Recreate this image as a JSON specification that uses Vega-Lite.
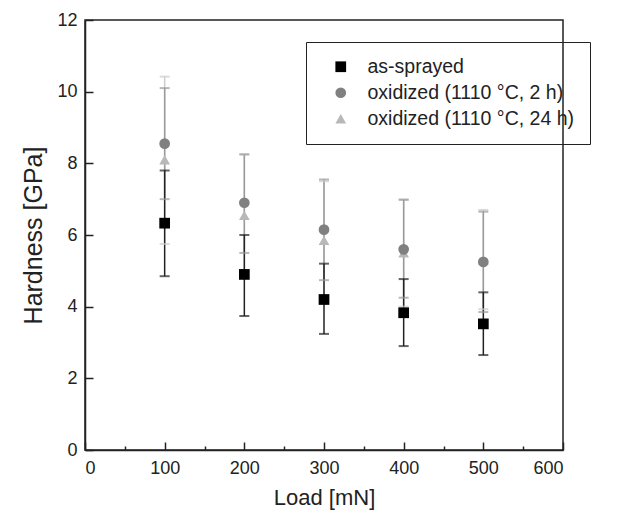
{
  "$schema": "https://vega.github.io/schema/vega-lite/v6.json",
  "width": 478,
  "height": 430,
  "autosize": {"type": "none"},
  "padding": {"left": 85, "top": 20, "right": 73, "bottom": 64},
  "background": "white",
  "config": {
    "font": "Liberation Sans",
    "view": {"stroke": "#222", "strokeWidth": 1.5},
    "axis": {"grid": false, "domainColor": "#222", "tickColor": "#222", "labelColor": "#222", "titleColor": "#222", "labelFont": "Liberation Sans", "titleFont": "Liberation Sans", "titleFontWeight": "normal", "domainWidth": 1.5, "tickWidth": 1.5}
  },
  "data": {
    "values": [
      {"load": 100, "series": "oxidized (1110 °C, 24 h)", "mean": 8.1, "lo": 5.75, "hi": 10.42},
      {"load": 200, "series": "oxidized (1110 °C, 24 h)", "mean": 6.55, "lo": 4.85, "hi": 8.25},
      {"load": 300, "series": "oxidized (1110 °C, 24 h)", "mean": 5.85, "lo": 4.2, "hi": 7.5},
      {"load": 400, "series": "oxidized (1110 °C, 24 h)", "mean": 5.5, "lo": 4.0, "hi": 7.0},
      {"load": 500, "series": "oxidized (1110 °C, 24 h)", "mean": 5.3, "lo": 3.93, "hi": 6.7},
      {"load": 100, "series": "oxidized (1110 °C, 2 h)", "mean": 8.55, "lo": 7.0, "hi": 10.1},
      {"load": 200, "series": "oxidized (1110 °C, 2 h)", "mean": 6.9, "lo": 5.5, "hi": 8.25},
      {"load": 300, "series": "oxidized (1110 °C, 2 h)", "mean": 6.15, "lo": 4.74, "hi": 7.55},
      {"load": 400, "series": "oxidized (1110 °C, 2 h)", "mean": 5.6, "lo": 4.25, "hi": 6.98},
      {"load": 500, "series": "oxidized (1110 °C, 2 h)", "mean": 5.25, "lo": 3.85, "hi": 6.65},
      {"load": 100, "series": "as-sprayed", "mean": 6.33, "lo": 4.85, "hi": 7.8},
      {"load": 200, "series": "as-sprayed", "mean": 4.9, "lo": 3.74, "hi": 6.0},
      {"load": 300, "series": "as-sprayed", "mean": 4.2, "lo": 3.24, "hi": 5.2},
      {"load": 400, "series": "as-sprayed", "mean": 3.83, "lo": 2.9, "hi": 4.77},
      {"load": 500, "series": "as-sprayed", "mean": 3.52, "lo": 2.65, "hi": 4.4}
    ]
  },
  "encoding": {
    "x": {"field": "load", "type": "quantitative", "scale": {"domain": [0, 600], "nice": false},
      "axis": {"values": [0, 50, 100, 150, 200, 250, 300, 350, 400, 450, 500, 550, 600],
        "tickSize": {"condition": {"test": "datum.value % 100 === 0", "value": -8}, "value": -4},
        "labelExpr": "datum.value % 100 === 0 ? datum.label : ''",
        "labelFontSize": 18, "labelPadding": 17, "title": "Load [mN]", "titleFontSize": 22, "titlePadding": 10}}
  },
  "layer": [
    {
      "mark": {"type": "rule", "strokeWidth": 1.5},
      "encoding": {
        "y": {"field": "lo", "type": "quantitative", "scale": {"domain": [0, 12], "nice": false},
          "axis": {"values": [0, 1, 2, 3, 4, 5, 6, 7, 8, 9, 10, 11, 12],
            "tickSize": {"condition": {"test": "datum.value % 2 === 0", "value": -8}, "value": -4},
            "labelExpr": "datum.value % 2 === 0 ? datum.label : ''",
            "labelFontSize": 18, "labelPadding": 16, "title": "Hardness [GPa]", "titleFontSize": 25, "titlePadding": 10}},
        "y2": {"field": "hi"},
        "stroke": {"field": "series", "type": "nominal", "legend": null,
          "scale": {"range": ["#222222", "#9a9a9a", "#cccccc"]}}
      }
    },
    {
      "mark": {"type": "tick", "orient": "horizontal", "size": 10, "thickness": 2},
      "encoding": {
        "y": {"field": "lo", "type": "quantitative"},
        "fill": {"field": "series", "type": "nominal", "legend": null,
          "scale": {"range": ["#222222", "#9a9a9a", "#cccccc"]}}
      }
    },
    {
      "mark": {"type": "tick", "orient": "horizontal", "size": 10, "thickness": 2},
      "encoding": {
        "y": {"field": "hi", "type": "quantitative"},
        "fill": {"field": "series", "type": "nominal", "legend": null}
      }
    },
    {
      "mark": {"type": "point", "filled": true, "opacity": 1, "size": 115},
      "encoding": {
        "y": {"field": "mean", "type": "quantitative"},
        "shape": {"field": "series", "type": "nominal",
          "scale": {"domain": ["as-sprayed", "oxidized (1110 °C, 2 h)", "oxidized (1110 °C, 24 h)"], "range": ["square", "circle", "triangle-up"]},
          "legend": {"title": null, "orient": "none", "legendX": 221, "legendY": 22, "strokeColor": "#222", "padding": 15, "symbolOffset": 10, "labelFontSize": 19.5, "labelFont": "Liberation Sans", "labelFontWeight": "normal", "labelLimit": 400, "labelColor": "#222", "symbolSize": 115, "rowPadding": 5, "labelOffset": 17, "symbolOpacity": 1}},
        "color": {"field": "series", "type": "nominal",
          "scale": {"domain": ["as-sprayed", "oxidized (1110 °C, 2 h)", "oxidized (1110 °C, 24 h)"], "range": ["#000000", "#808080", "#b8b8b8"]},
          "legend": {"title": null, "orient": "none", "legendX": 221, "legendY": 22, "strokeColor": "#222", "padding": 15, "symbolOffset": 10, "labelFontSize": 19.5, "labelFont": "Liberation Sans", "labelFontWeight": "normal", "labelLimit": 400, "labelColor": "#222", "symbolSize": 115, "rowPadding": 5, "labelOffset": 17, "symbolOpacity": 1}}
      }
    }
  ]
}
